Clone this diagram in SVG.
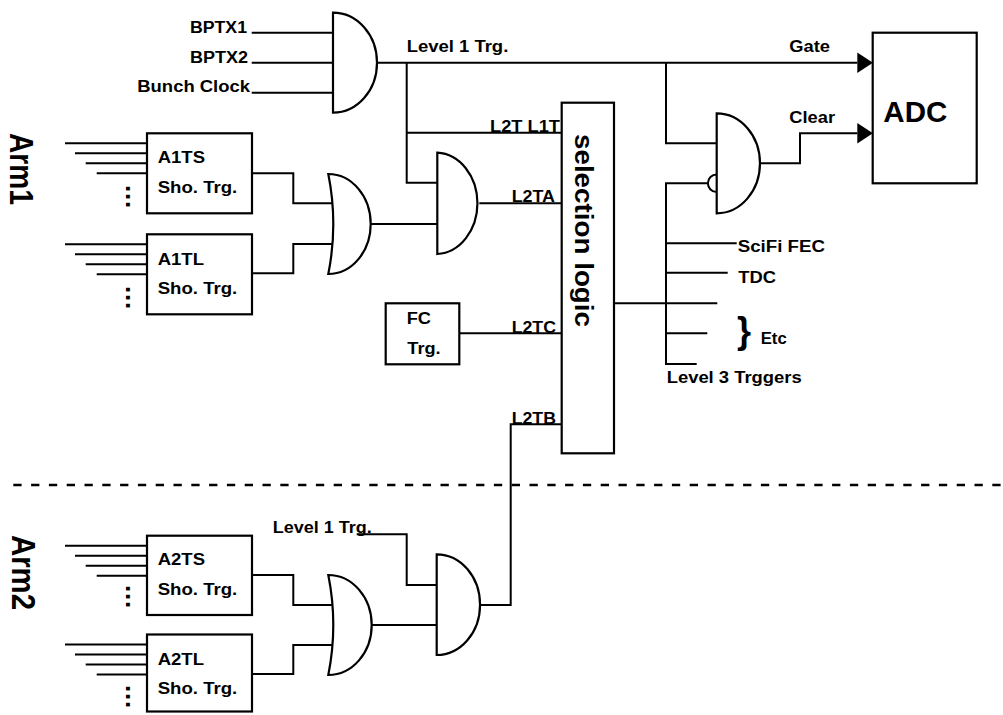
<svg xmlns="http://www.w3.org/2000/svg" width="1003" height="715" viewBox="0 0 1003 715">
<style>
  .ln{fill:none;stroke:#000;stroke-width:2}
  .gate{fill:#fff;stroke:#000;stroke-width:2.2}
  .box{fill:#fff;stroke:#000;stroke-width:2.2}
  text{font-family:"Liberation Sans",Arial,sans-serif;font-weight:bold;fill:#000}
  .t{font-size:16px}
  .dots{font-size:26px;letter-spacing:0.8px}
</style>
<defs>
  <marker id="arr" markerUnits="userSpaceOnUse" markerWidth="16" markerHeight="22" refX="0" refY="10.3" orient="auto">
    <path d="M0,0 L15.6,10.3 L0,20.6 Z" fill="#000"/>
  </marker>
</defs>
<rect width="1003" height="715" fill="#fff"/>

<g id="connectors">
  <path class="ln" d="M251.7,32.7 H333 M251.7,62.7 H333 M251.7,92.7 H333"/>
  <path class="ln" d="M377,62.7 H857.3" marker-end="url(#arr)"/>
  <path class="ln" d="M406.7,62.7 V182.7 H437.3 M406.7,132.7 H561.7"/>
  <path class="ln" d="M252,173.3 H293.3 V203.3 H332.5 M252,273.3 H293.3 V244 H332.5"/>
  <path class="ln" d="M370.7,224 H437.3 M479.3,203.3 H561.7"/>
  <path class="ln" d="M459.3,333.3 H561.7"/>
  <path class="ln" d="M480,605 H510.7 V424.3 H561.7"/>
  <path class="ln" d="M356.7,534.3 H406.7 V585 H436.7 M371.7,625 H436.7"/>
  <path class="ln" d="M252,575 H293.3 V605 H332.5 M252,674 H293.3 V645 H332.5"/>
  <path class="ln" d="M614,303.3 H717.3"/>
  <path class="ln" d="M666,62.7 V143.3 H716.7"/>
  <path class="ln" d="M708,183.3 H666 V364 H696.7 M666,243.3 H736.7 M666,272.7 H727.7 M666,333.3 H707.3"/>
  <path class="ln" d="M760,163.3 H800 V133.3 H857.3" marker-end="url(#arr)"/>
  <path class="ln" d="M65,143.3 H147 M75,153.3 H147 M85.7,163.3 H147 M96.7,173.3 H147"/>
  <path class="ln" d="M65,244.3 H147 M75,254.3 H147 M85.7,264.3 H147 M96.7,274.3 H147"/>
  <path class="ln" d="M65,545.7 H147 M75,555.7 H147 M85.7,565.7 H147 M96.7,575.7 H147"/>
  <path class="ln" d="M65,644.5 H147 M75,654.5 H147 M85.7,664.5 H147 M96.7,674.5 H147"/>
  <path d="M13.3,485 H1003" fill="none" stroke="#000" stroke-width="2.5" stroke-dasharray="8.3 9.5"/>
</g>

<g id="and-level1">
  <path class="gate" d="M333,12.7 A44,50 0 0 1 333,112.7 Z"/>
</g>
<g id="or-arm1">
  <path class="gate" d="M328.3,174 A42.4,50 0 0 1 328.3,274 Q338.3,224 328.3,174 Z"/>
</g>
<g id="and-l2ta">
  <path class="gate" d="M437.3,152.7 A42,50.7 0 0 1 437.3,254 Z"/>
</g>
<g id="and-clear">
  <path class="gate" d="M716.7,113.3 A43.3,50 0 0 1 716.7,213.3 Z"/>
  <path class="ln" d="M716.7,174.5 A8.8,8.8 0 0 0 716.7,192.1"/>
</g>
<g id="or-arm2">
  <path class="gate" d="M328.3,575 A43.4,50 0 0 1 328.3,675 Q338.3,625 328.3,575 Z"/>
</g>
<g id="and-l2tb">
  <path class="gate" d="M436.7,554.3 A43.3,50.3 0 0 1 436.7,655 Z"/>
</g>

<g id="labels">
  <text class="t" x="190" y="33.3" textLength="57" lengthAdjust="spacingAndGlyphs">BPTX1</text>
  <text class="t" x="190" y="62.7" textLength="58" lengthAdjust="spacingAndGlyphs">BPTX2</text>
  <text class="t" x="137.3" y="92.3" textLength="112.7" lengthAdjust="spacingAndGlyphs">Bunch Clock</text>
  <text class="t" x="406.7" y="51.7" textLength="101.6" lengthAdjust="spacingAndGlyphs">Level 1 Trg.</text>
  <text class="t" x="789.3" y="51.7" textLength="40.7" lengthAdjust="spacingAndGlyphs">Gate</text>
  <text class="t" x="789.3" y="122.7" textLength="45.7" lengthAdjust="spacingAndGlyphs">Clear</text>
  <text class="t" x="490" y="132.3" textLength="70" lengthAdjust="spacingAndGlyphs">L2T L1T</text>
  <text class="t" x="511.7" y="202.3" textLength="43.3" lengthAdjust="spacingAndGlyphs">L2TA</text>
  <text class="t" x="511.7" y="332.8" textLength="44.3" lengthAdjust="spacingAndGlyphs">L2TC</text>
  <text class="t" x="511.7" y="423.6" textLength="44.3" lengthAdjust="spacingAndGlyphs">L2TB</text>
  <text class="t" x="737.7" y="252.3" textLength="87.3" lengthAdjust="spacingAndGlyphs">SciFi FEC</text>
  <text class="t" x="738.3" y="282.7" textLength="37.7" lengthAdjust="spacingAndGlyphs">TDC</text>
  <text x="737" y="343" style="font-size:36px">}</text>
  <text class="t" x="760.7" y="344" textLength="26" lengthAdjust="spacingAndGlyphs">Etc</text>
  <text class="t" x="666.7" y="383.3" textLength="135" lengthAdjust="spacingAndGlyphs">Level 3 Trggers</text>
  <text class="t" x="272.7" y="533.3" textLength="99" lengthAdjust="spacingAndGlyphs">Level 1 Trg.</text>
  <text transform="translate(10,133) rotate(90)" style="font-size:33px" textLength="72" lengthAdjust="spacingAndGlyphs">Arm1</text>
  <text transform="translate(11.7,535) rotate(90)" style="font-size:33px" textLength="75" lengthAdjust="spacingAndGlyphs">Arm2</text>
</g>

<g id="adc">
  <rect class="box" x="872.7" y="32.7" width="104" height="150.6"/>
  <text x="883.3" y="121.7" style="font-size:30px" textLength="64" lengthAdjust="spacingAndGlyphs">ADC</text>
</g>

<g id="selection-logic">
  <rect class="box" x="561.7" y="102.7" width="52.3" height="350.6"/>
  <text transform="translate(575,134) rotate(90)" style="font-size:26px" textLength="193" lengthAdjust="spacingAndGlyphs">selection logic</text>
</g>

<g id="fc-trg">
  <rect class="box" x="385.7" y="303.3" width="73.6" height="61"/>
  <text class="t" x="406.7" y="324" textLength="24.3" lengthAdjust="spacingAndGlyphs">FC</text>
  <text class="t" x="407.3" y="354" textLength="33.3" lengthAdjust="spacingAndGlyphs">Trg.</text>
</g>

<g id="a1ts">
  <rect class="box" x="147" y="133.3" width="105" height="80"/>
  <text class="t" x="157.7" y="163.3" textLength="47.3" lengthAdjust="spacingAndGlyphs">A1TS</text>
  <text class="t" x="157.7" y="193" textLength="79.6" lengthAdjust="spacingAndGlyphs">Sho. Trg.</text>
  <text class="dots" transform="translate(126,185) rotate(90)">...</text>
</g>

<g id="a1tl">
  <rect class="box" x="147" y="234.3" width="105" height="80"/>
  <text class="t" x="157.7" y="265" textLength="46.3" lengthAdjust="spacingAndGlyphs">A1TL</text>
  <text class="t" x="157.7" y="294" textLength="79.6" lengthAdjust="spacingAndGlyphs">Sho. Trg.</text>
  <text class="dots" transform="translate(126,286) rotate(90)">...</text>
</g>

<g id="a2ts">
  <rect class="box" x="147" y="535.7" width="105" height="79.3"/>
  <text class="t" x="157.7" y="565" textLength="47.3" lengthAdjust="spacingAndGlyphs">A2TS</text>
  <text class="t" x="157.7" y="595" textLength="79.6" lengthAdjust="spacingAndGlyphs">Sho. Trg.</text>
  <text class="dots" transform="translate(126,585) rotate(90)">...</text>
</g>

<g id="a2tl">
  <rect class="box" x="147" y="634.5" width="105" height="77"/>
  <text class="t" x="157.7" y="665" textLength="46.3" lengthAdjust="spacingAndGlyphs">A2TL</text>
  <text class="t" x="157.7" y="694" textLength="79.6" lengthAdjust="spacingAndGlyphs">Sho. Trg.</text>
  <text class="dots" transform="translate(126,685) rotate(90)">...</text>
</g>
</svg>
